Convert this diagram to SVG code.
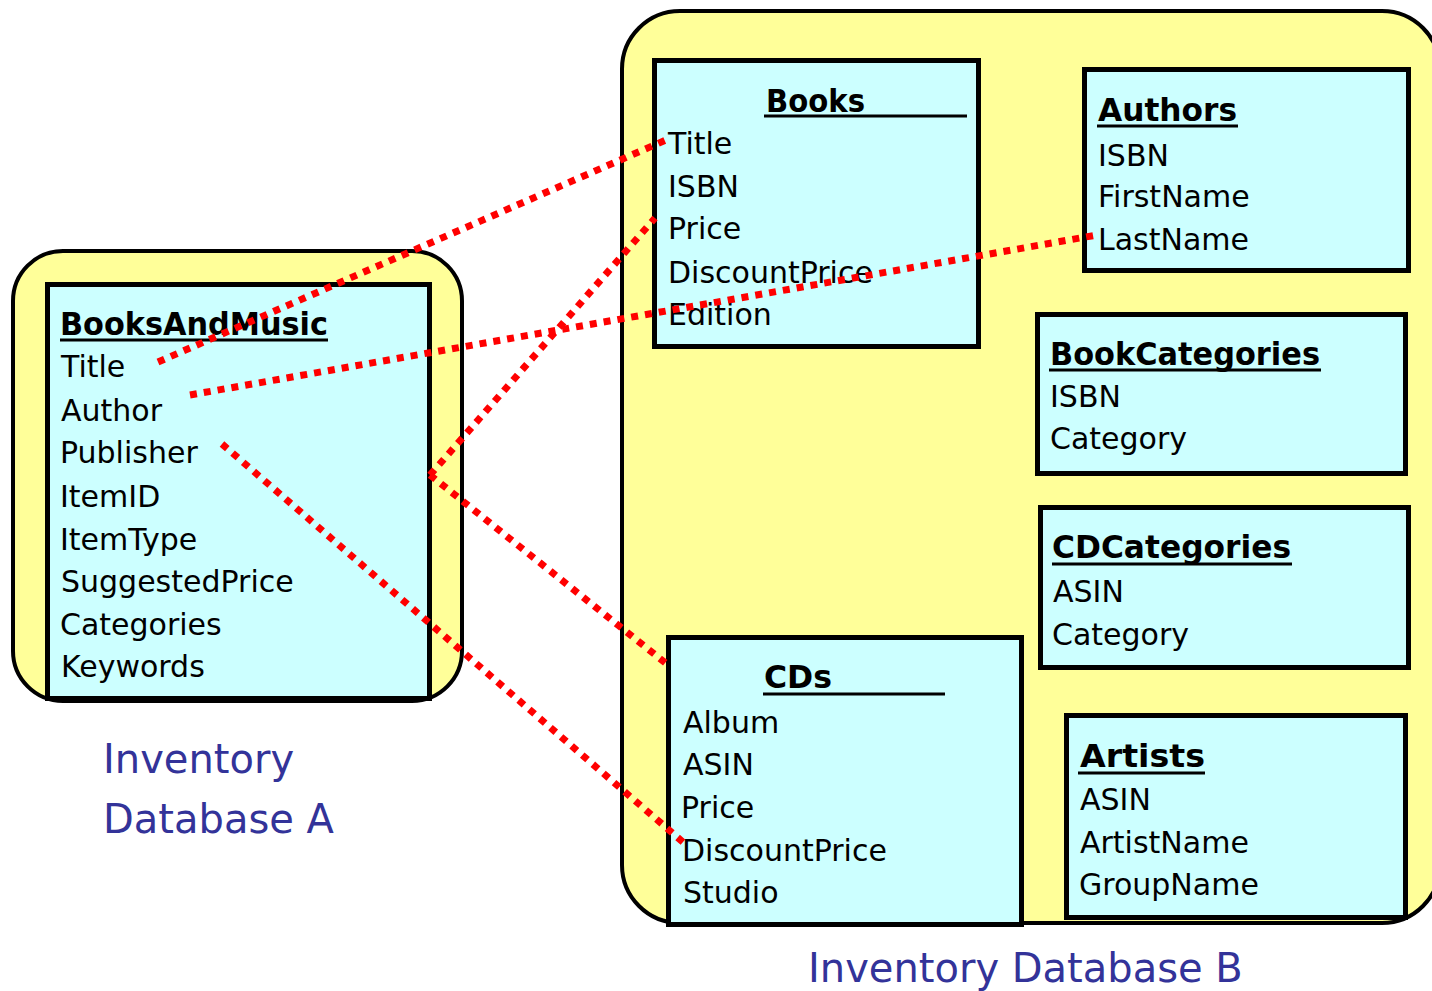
<svg xmlns="http://www.w3.org/2000/svg" width="1432" height="991" viewBox="0 0 1432 991">
  <style>
    .db { fill: #FFFF99; stroke: #000; stroke-width: 4; }
    .tbl { fill: #CCFFFF; stroke: #000; stroke-width: 5; }
    .hd { font-family: "DejaVu Sans", "Liberation Sans", sans-serif; font-weight: bold; font-size: 32px; fill: #000; }
    .fld { font-family: "DejaVu Sans", "Liberation Sans", sans-serif; font-size: 30px; fill: #000; }
    .ul { stroke: #000; stroke-width: 3; }
    .cap { font-family: "DejaVu Sans", "Liberation Sans", sans-serif; font-size: 40px; fill: #333399; }
    .link { fill: none; stroke: #FF0000; stroke-width: 7; stroke-dasharray: 7 7; }
  </style>

  <!-- Database A container -->
  <g id="dbA">
    <rect class="db" x="13" y="251" width="449" height="450" rx="50" ry="50"/>
    <text class="cap" x="103" y="773">Inventory</text>
    <text class="cap" x="103" y="833">Database A</text>
  </g>

  <!-- Database B container -->
  <g id="dbB">
    <rect class="db" x="622" y="11" width="818" height="912" rx="58" ry="58"/>
    <text class="cap" x="808" y="982">Inventory Database B</text>
  </g>

  <g id="booksAndMusic">
    <rect class="tbl" x="47.5" y="284.5" width="382" height="414"/>
    <text class="hd" x="60" y="335" textLength="268" lengthAdjust="spacingAndGlyphs">BooksAndMusic</text>
    <line class="ul" x1="60" y1="340" x2="328" y2="340"/>
    <text class="fld" x="61" y="377">Title</text>
    <text class="fld" x="61" y="421">Author</text>
    <text class="fld" x="60" y="463">Publisher</text>
    <text class="fld" x="60" y="507">ItemID</text>
    <text class="fld" x="60" y="550">ItemType</text>
    <text class="fld" x="61" y="592">SuggestedPrice</text>
    <text class="fld" x="60" y="635">Categories</text>
    <text class="fld" x="61" y="677">Keywords</text>
  </g>

  <g id="books">
    <rect class="tbl" x="654.5" y="60.5" width="324" height="286"/>
    <text class="hd" x="766" y="112" textLength="99" lengthAdjust="spacingAndGlyphs">Books</text>
    <line class="ul" x1="764" y1="116" x2="967" y2="116"/>
    <text class="fld" x="668" y="154">Title</text>
    <text class="fld" x="668" y="197">ISBN</text>
    <text class="fld" x="668" y="239">Price</text>
    <text class="fld" x="668" y="283">DiscountPrice</text>
    <text class="fld" x="668" y="325">Edition</text>
  </g>

  <g id="authors">
    <rect class="tbl" x="1084.5" y="69.5" width="324" height="201"/>
    <text class="hd" x="1098" y="121" textLength="139" lengthAdjust="spacingAndGlyphs">Authors</text>
    <line class="ul" x1="1097" y1="126" x2="1238" y2="126"/>
    <text class="fld" x="1098" y="166">ISBN</text>
    <text class="fld" x="1098" y="207">FirstName</text>
    <text class="fld" x="1098" y="250">LastName</text>
  </g>

  <g id="bookCategories">
    <rect class="tbl" x="1037.5" y="314.5" width="368" height="159"/>
    <text class="hd" x="1050" y="365" textLength="270" lengthAdjust="spacingAndGlyphs">BookCategories</text>
    <line class="ul" x1="1049" y1="370" x2="1321" y2="370"/>
    <text class="fld" x="1050" y="407">ISBN</text>
    <text class="fld" x="1050" y="449">Category</text>
  </g>

  <g id="cdCategories">
    <rect class="tbl" x="1040.5" y="507.5" width="368" height="160"/>
    <text class="hd" x="1052" y="558" textLength="239" lengthAdjust="spacingAndGlyphs">CDCategories</text>
    <line class="ul" x1="1052" y1="564" x2="1292" y2="564"/>
    <text class="fld" x="1053" y="602">ASIN</text>
    <text class="fld" x="1052" y="645">Category</text>
  </g>

  <g id="artists">
    <rect class="tbl" x="1066.5" y="715.5" width="339" height="202"/>
    <text class="hd" x="1080" y="767" textLength="125" lengthAdjust="spacingAndGlyphs">Artists</text>
    <line class="ul" x1="1078" y1="773" x2="1205" y2="773"/>
    <text class="fld" x="1080" y="810">ASIN</text>
    <text class="fld" x="1080" y="853">ArtistName</text>
    <text class="fld" x="1079" y="895">GroupName</text>
  </g>

  <g id="cds">
    <rect class="tbl" x="668.5" y="637.5" width="353" height="287"/>
    <text class="hd" x="764" y="688" textLength="68" lengthAdjust="spacingAndGlyphs">CDs</text>
    <line class="ul" x1="763" y1="694" x2="945" y2="694"/>
    <text class="fld" x="683" y="733">Album</text>
    <text class="fld" x="683" y="775">ASIN</text>
    <text class="fld" x="681" y="818">Price</text>
    <text class="fld" x="682" y="861">DiscountPrice</text>
    <text class="fld" x="683" y="903">Studio</text>
  </g>

  <!-- attribute correspondences between the two databases -->
  <g id="connectors">
    <path class="link" d="M158,362 L666,140"/>
    <path class="link" d="M190,395 L1097,235"/>
    <path class="link" d="M430,475 L655,218"/>
    <path class="link" d="M430,475 L668,665"/>
    <path class="link" d="M222,444 L684,843"/>
  </g>
</svg>
